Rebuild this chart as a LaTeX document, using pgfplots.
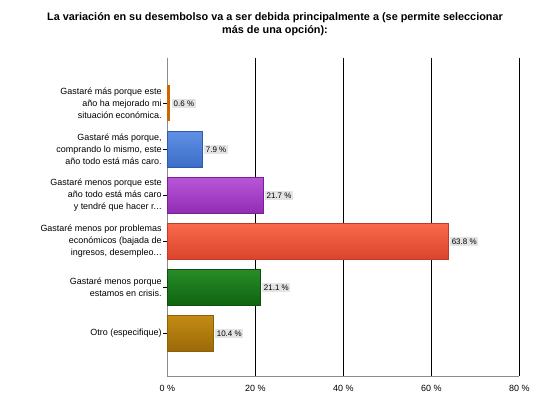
\documentclass[border=0pt]{standalone}
\usepackage{pgfplots}
\pgfplotsset{compat=1.18}
\usepackage{fontspec}
\setmainfont{Liberation Sans}
\definecolor{gridc}{HTML}{000000}
\definecolor{axc}{HTML}{8C8C8C}
\definecolor{lblbg}{HTML}{E4E4E4}
\newcommand{\ddd}{.\kern0.3pt.\kern0.3pt.}
\begin{document}
\begin{tikzpicture}[x=1bp,y=1bp]
\useasboundingbox (0,0) rectangle (551,414);
\node[font=\bfseries\fontsize{10.9}{13}\selectfont, align=center] at (275,390) {La variación en su desembolso va a ser debida principalmente a (se permite seleccionar\\más de una opción):};
\begin{axis}[
  at={(167.3bp,38bp)}, anchor=south west,
  scale only axis, width=352bp, height=318.5bp,
  xmin=0, xmax=80, ymin=-1, ymax=5.93,
  y dir=reverse,
  axis x line*=bottom, axis y line*=left,
  axis line style={-, draw=axc, line width=0.8pt},
  xtick={0,20,40,60,80},
  xticklabels={0 \%,20 \%,40 \%,60 \%,80 \%},
  xmajorgrids, major grid style={draw=gridc, line width=0.6pt},
  ytick={0,1,2,3,4,5},
  yticklabels={
    {Gastaré más porque este\\año ha mejorado mi\\situación económica.},
    {Gastaré más porque,\\comprando lo mismo, este\\año todo está más caro.},
    {Gastaré menos porque este\\año todo está más caro\\y tendré que hacer r\ddd},
    {Gastaré menos por problemas\\económicos (bajada de\\ingresos, desempleo\ddd},
    {Gastaré menos porque\\estamos en crisis.},
    {Otro (especifique)}},
  yticklabel style={align=right, font=\fontsize{9}{12}\selectfont, inner sep=1.5pt},
  xticklabel style={font=\fontsize{9}{10}\selectfont, yshift=-2bp},
  tick style={draw=black, line width=0.6pt},
  major tick length=4bp,
  tick align=outside,
  xtick style={draw=none},
  xbar, bar width=36bp, bar shift=0pt,
  nodes near coords,
  point meta=explicit symbolic,
  every node near coord/.append style={anchor=west, fill=lblbg, font=\fontsize{8}{9}\selectfont, inner sep=1.6pt, xshift=2bp},
  clip=false,
]
\addplot[draw=none, fill=orange!80!black] coordinates {(0.6,0) [0.6 \%]};
\addplot[draw={rgb,255:red,45;green,90;blue,170}, top color={rgb,255:red,95;green,145;blue,228}, bottom color={rgb,255:red,60;green,108;blue,200}] coordinates {(7.9,1) [7.9 \%]};
\addplot[draw={rgb,255:red,120;green,30;blue,150}, top color={rgb,255:red,185;green,85;blue,215}, bottom color={rgb,255:red,145;green,45;blue,180}] coordinates {(21.7,2) [21.7 \%]};
\addplot[draw={rgb,255:red,190;green,60;blue,40}, top color={rgb,255:red,250;green,105;blue,75}, bottom color={rgb,255:red,218;green,68;blue,45}] coordinates {(63.8,3) [63.8 \%]};
\addplot[draw={rgb,255:red,15;green,80;blue,15}, top color={rgb,255:red,40;green,140;blue,40}, bottom color={rgb,255:red,15;green,100;blue,15}] coordinates {(21.1,4) [21.1 \%]};
\addplot[draw={rgb,255:red,140;green,95;blue,10}, top color={rgb,255:red,195;green,140;blue,20}, bottom color={rgb,255:red,155;green,105;blue,8}] coordinates {(10.4,5) [10.4 \%]};
\end{axis}
\end{tikzpicture}
\end{document}
